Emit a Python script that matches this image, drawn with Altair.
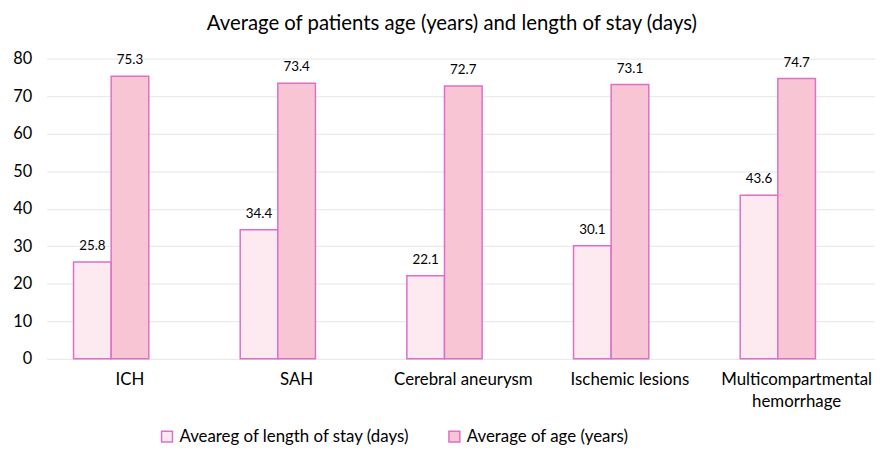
import altair as alt
import pandas as pd

categories = ["ICH", "SAH", "Cerebral aneurysm", "Ischemic lesions", "Multicompartmental hemorrhage"]
stay_days = [25.8, 34.4, 22.1, 30.1, 43.6]
age_years = [75.3, 73.4, 72.7, 73.1, 74.7]
series = ["Aveareg of length of stay (days)", "Average of age (years)"]
slots = series + ["(empty)"]

rows = []
for c, s, a in zip(categories, stay_days, age_years):
    rows.append({"cat": c, "series": series[0], "value": s})
    rows.append({"cat": c, "series": series[1], "value": a})
df = pd.DataFrame(rows)

FONT = "Lato"
STROKE = "#de6fc8"

x = alt.X("cat:N", sort=categories, title=None,
          scale=alt.Scale(paddingInner=0, paddingOuter=0, range=[0, 841]),
          axis=alt.Axis(labelAngle=0, domain=False, ticks=False, labelFontSize=17,
                        labelFont=FONT, labelColor="#000", labelPadding=13, labelLineHeight=22,
                        labelExpr="datum.label == 'Multicompartmental hemorrhage' ? ['Multicompartmental','hemorrhage'] : datum.label"))
xo = alt.XOffset("series:N", scale=alt.Scale(domain=slots, paddingInner=0, paddingOuter=0.715))
y = alt.Y("value:Q", title=None,
          scale=alt.Scale(domain=[0, 80], nice=False),
          axis=alt.Axis(values=[0, 10, 20, 30, 40, 50, 60, 70, 80], domain=False, ticks=False,
                        labelFontSize=16.5, labelFont=FONT, labelColor="#000", labelPadding=15,
                        gridColor="#e6e6e6"))

bars = alt.Chart(df).mark_bar(stroke=STROKE, strokeWidth=1.5).encode(
    x=x, xOffset=xo, y=y,
    color=alt.Color("series:N", sort=series,
                    scale=alt.Scale(domain=series, range=["#fdeaf0", "#f8c5d5"]),
                    legend=alt.Legend(title=None, orient="none", direction="horizontal",
                                      legendX=113, legendY=373,
                                      symbolType="square", symbolSize=121,
                                      symbolStrokeColor=STROKE, symbolStrokeWidth=1.5,
                                      labelFontSize=17, labelFont=FONT, labelColor="#000",
                                      labelLimit=0, columnPadding=36)),
)

labels = alt.Chart(df).mark_text(dy=-16, fontSize=13.5, font=FONT, color="#000").encode(
    x=x, xOffset=xo, y=y, text=alt.Text("value:Q", format=".1f"))

chart = (bars + labels).properties(
    width=826, height=303,
    autosize=alt.AutoSizeParams(type="none"),
    padding={"left": 39, "top": 49, "right": 10, "bottom": 90},
    title=alt.Title("Average of patients age (years) and length of stay (days)",
                    fontSize=20.5, font=FONT, fontWeight="normal", color="#000", offset=16, dx=-4),
).configure_view(stroke=None)

chart.save("out.html", embed_options={"renderer": "svg", "actions": False})
